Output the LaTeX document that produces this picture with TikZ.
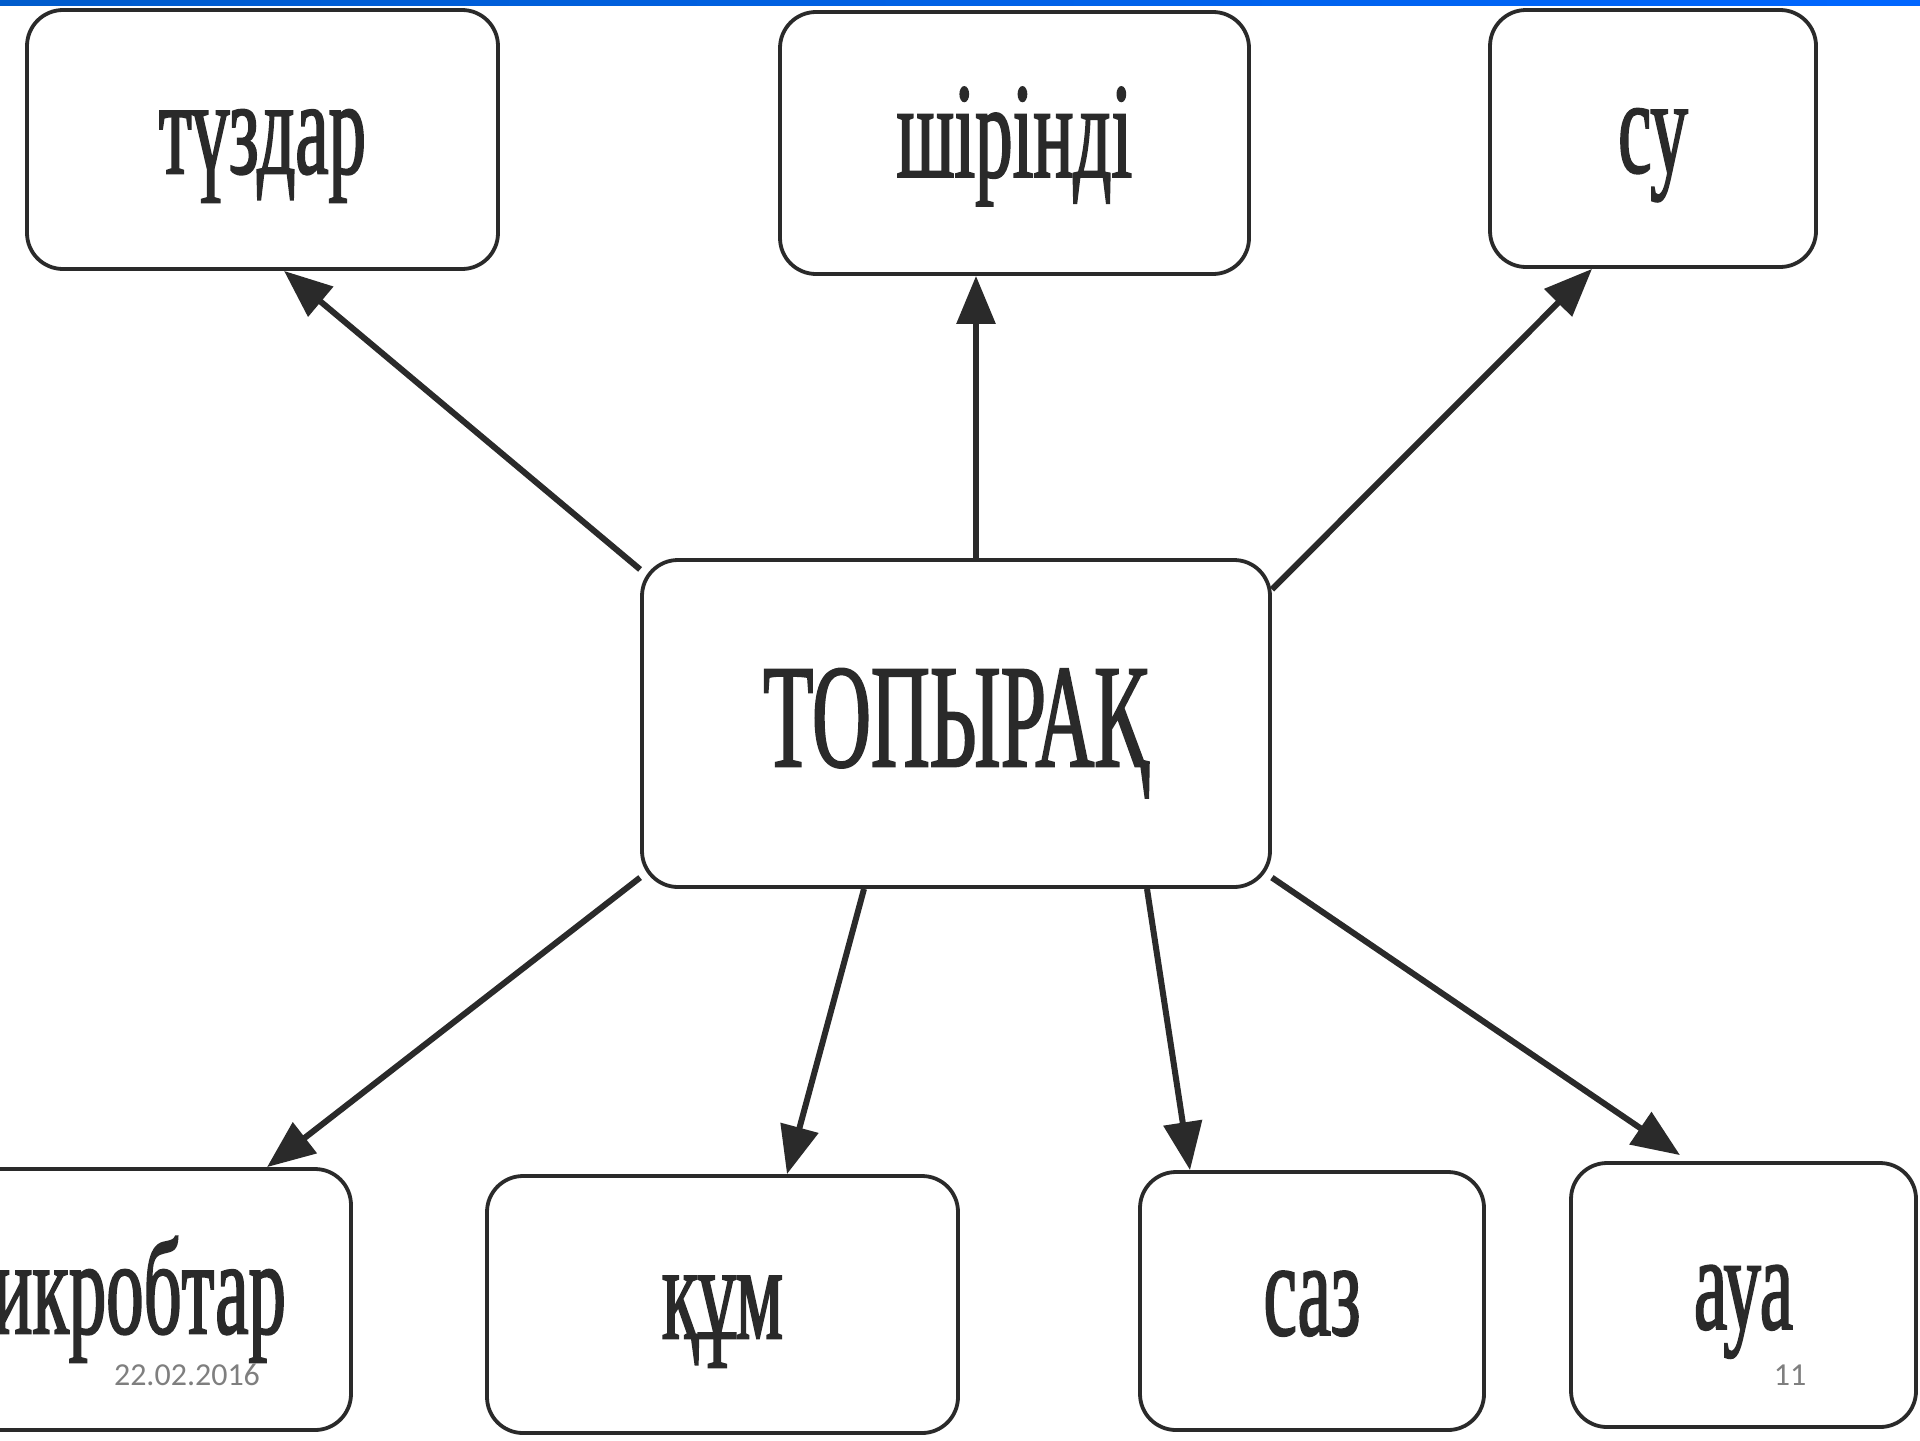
\documentclass[tikz,border=0pt]{standalone}
\usepackage{fontspec}
\usetikzlibrary{arrows.meta,calc}
\newfontfamily\lblfont[FakeStretch=0.55,FakeBold=1.3]{Liberation Serif}
\newfontfamily\footfont{Carlito}
\definecolor{ink}{HTML}{2A2A2A}
\definecolor{foot}{HTML}{7F7F7F}
\tikzset{
  box/.style={draw=ink, line width=1.9pt, rounded corners=18pt, fill=white,
    inner sep=0pt, text=ink, text height=40pt, text depth=6pt,
    font=\lblfont\fontsize{68}{70}\selectfont},
  bigbox/.style={box, text height=50pt, text depth=7pt, font=\lblfont\fontsize{74}{76}\selectfont},
  arr/.style={draw=ink, line width=3pt, -{Triangle[length=24pt,width=19pt]}},
  foottext/.style={text=foot, font=\footfont\fontsize{16}{18}\selectfont, inner sep=0pt}
}
\begin{document}
\begin{tikzpicture}[x=0.5pt,y=-0.5pt]
\useasboundingbox (0,0) rectangle (1920,1440);
\clip (0,0) rectangle (1920,1440);
\fill[white] (0,0) rectangle (1920,1440);
\shade[left color=blue!55!cyan!80!black, right color=blue!60!cyan] (0,0) rectangle (1920,5);
% nodes
\node[box, minimum width=235.5pt, minimum height=129.5pt] (tuz) at (262.5,139.5) {түздар};
\node[box, minimum width=234.5pt, minimum height=131pt] (shir) at (1014.5,143) {шірінді};
\node[box, minimum width=163pt, minimum height=128.5pt] (su) at (1653,138.5) {су};
\node[bigbox, minimum width=314pt, minimum height=163.5pt] (top) at (956,723.5) {ТОПЫРАҚ};
\node[box, minimum width=235.5pt, minimum height=130.5pt] (mik) at (115.5,1299.5) {микробтар};
\node[box, minimum width=235.5pt, minimum height=128.5pt] (kum) at (722.5,1304.5) {құм};
\node[box, minimum width=172pt, minimum height=129pt] (saz) at (1312,1301) {саз};
\node[box, minimum width=172.5pt, minimum height=132pt] (aua) at (1743.5,1295) {ауа};
% arrows
\draw[arr] (top.154) -- ($(tuz.south)+(21.5,0)$);
\draw[arr] ($(top.north)+(20,0)$) -- ($(shir.south)+(-38.5,0)$);
\draw[arr] (top.23.5) -- ($(su.south)+(-61,0)$);
\draw[arr] (top.206.9) -- ($(mik.north)+(151.5,0)$);
\draw[arr] ($(top.south)+(-92,0)$) -- ($(kum.north)+(64.5,0)$);
\draw[arr] ($(top.south)+(191,0)$) -- ($(saz.north)+(-122,0)$);
\draw[arr] (top.334.5) -- ($(aua.north)+(-63.5,-6)$);
% footer
\node[foottext] (date) at (187,1375) {22.02.2016};
\node[foottext] (page) at (1790,1375) {11};
\end{tikzpicture}
\end{document}
